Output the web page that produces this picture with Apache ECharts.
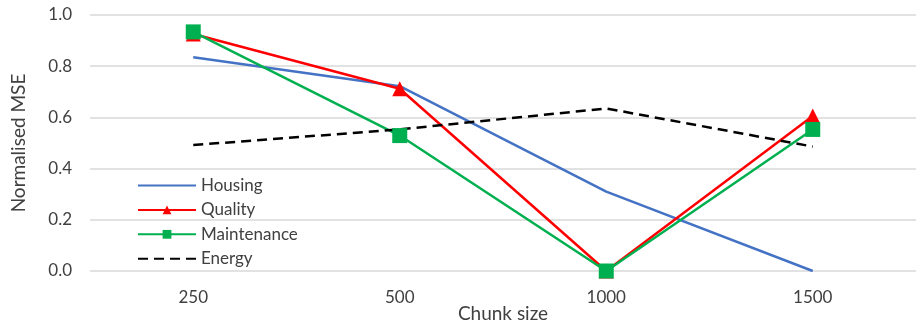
<!DOCTYPE html>
<html>
<head>
<meta charset="utf-8">
<script src="https://cdn.jsdelivr.net/npm/echarts@6/dist/echarts.min.js"></script>
<style>html,body{margin:0;padding:0;background:#fff}#c{width:917px;height:324px}</style>
</head>
<body>
<div id="c"></div>
<script>
const categories = ['250', '500', '1000', '1500'];
const housing = [0.835, 0.722, 0.31, 0.0];
const quality = [0.926, 0.712, 0.0, 0.605];
const maintenance = [0.934, 0.529, 0.0, 0.553];
const energy = [0.492, 0.553, 0.635, 0.486];
const yTicks = [0, 0.2, 0.4, 0.6, 0.8, 1.0];

const FONT = 'Lato';
const chart = echarts.init(document.getElementById('c'), null, {renderer: 'canvas'});
chart.setOption({
  animation: false,
  backgroundColor: '#fff',
  textStyle: {fontFamily: FONT},
  grid: {left: 90, right: 1, top: 15, bottom: 53, containLabel: false, outerBoundsMode: 'none'},
  legend: {
    orient: 'vertical', left: 132, top: 172,
    itemWidth: 58, itemHeight: 11, itemGap: 7.4,
    textStyle: {fontFamily: FONT, fontSize: 17, color: '#404040'},
    data: [
      {name: 'Housing', itemStyle: {opacity: 0}},
      'Quality', 'Maintenance',
      {name: 'Energy', itemStyle: {opacity: 0}}
    ]
  },
  xAxis: {
    type: 'category', data: categories, boundaryGap: true,
    name: 'Chunk size', nameLocation: 'middle', nameGap: 33, nameMoveOverlap: false,
    nameTextStyle: {fontFamily: FONT, fontSize: 19, color: '#404040'},
    axisLine: {show: false}, axisTick: {show: false},
    axisLabel: {fontFamily: FONT, fontSize: 17, color: '#404040', margin: 18}
  },
  yAxis: {
    type: 'value', min: 0, max: 1, interval: 0.2,
    name: 'Normalised MSE', nameLocation: 'middle', nameGap: 62, nameMoveOverlap: false,
    nameTextStyle: {fontFamily: FONT, fontSize: 19, color: '#404040'},
    axisLine: {show: false}, axisTick: {show: false},
    axisLabel: {fontFamily: FONT, fontSize: 17, color: '#404040', margin: 18,
      formatter: v => { const t = yTicks.find(x => Math.abs(x - v) < 1e-9); return (t !== undefined ? t : v).toFixed(1); }},
    splitLine: {lineStyle: {color: '#d9d9d9', width: 1.5}}
  },
  series: [
    {name: 'Housing', type: 'line', data: housing, symbol: 'none',
     lineStyle: {color: '#4472C4', width: 2.5}, itemStyle: {color: '#4472C4'}},
    {name: 'Quality', type: 'line', data: quality, symbol: 'triangle', symbolSize: 15,
     lineStyle: {color: '#FF0000', width: 2.5}, itemStyle: {color: '#FF0000'}},
    {name: 'Maintenance', type: 'line', data: maintenance, symbol: 'rect', symbolSize: 15,
     lineStyle: {color: '#00B050', width: 2.5}, itemStyle: {color: '#00B050'}},
    {name: 'Energy', type: 'line', data: energy, symbol: 'none',
     lineStyle: {color: '#000000', width: 2.5, type: [10, 6]}, itemStyle: {color: '#000000'}}
  ]
});
</script>
</body>
</html>
